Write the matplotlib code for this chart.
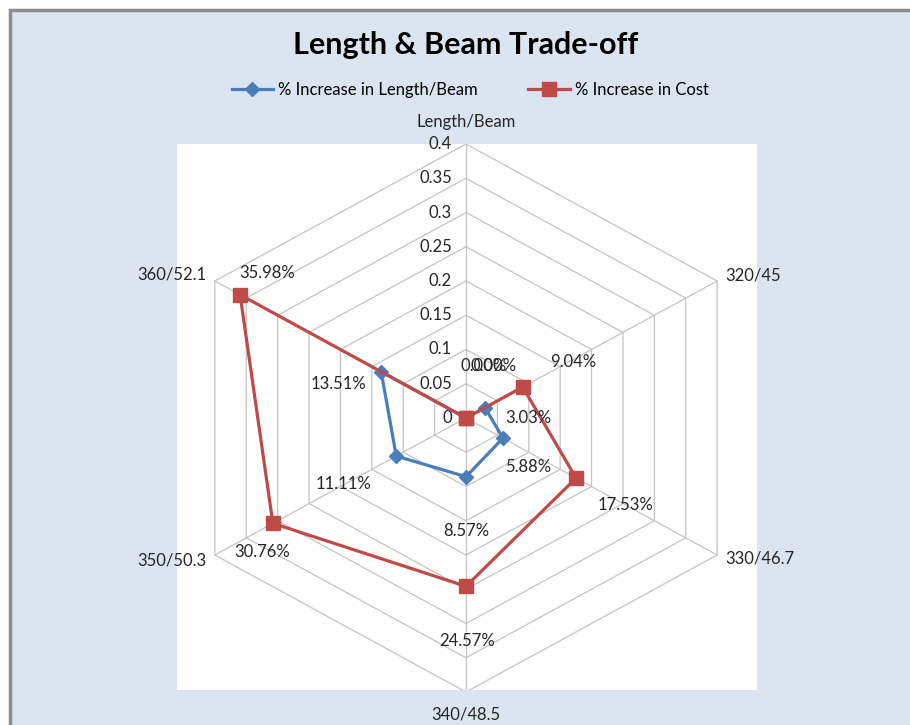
import matplotlib.pyplot as plt
from matplotlib.patches import Rectangle
import numpy as np

plt.rcParams['font.family'] = ['Lato', 'DejaVu Sans']

categories = ['Length/Beam', '320/45', '330/46.7', '340/48.5', '350/50.3', '360/52.1']
length_beam = [0.0, 0.0303, 0.0588, 0.0857, 0.1111, 0.1351]
cost = [0.0, 0.0904, 0.1753, 0.2457, 0.3076, 0.3598]
length_labels = ['0.00%', '3.03%', '5.88%', '8.57%', '11.11%', '13.51%']
cost_labels = ['0.00%', '9.04%', '17.53%', '24.57%', '30.76%', '35.98%']
rticks = [0, 0.05, 0.1, 0.15, 0.2, 0.25, 0.3, 0.35, 0.4]
rtick_labels = ['0', '0.05', '0.1', '0.15', '0.2', '0.25', '0.3', '0.35', '0.4']

blue = '#4a7ebb'
red = '#be4b48'
rmax = 0.4
fs = 12

# angles, clockwise from top
ang = np.deg2rad(90 - 60 * np.arange(len(categories)))
# the picture is a little wider than tall
sx, sy = 290 / 274, 1.0

def xy(r):
    r = np.asarray(r, dtype=float)
    return r * np.cos(ang) * sx, r * np.sin(ang) * sy

W, H = 910, 725
fig = plt.figure(figsize=(W / 100, H / 100), dpi=100)
fig.patch.set_facecolor('white')
fig.patches.append(Rectangle((10 / W, -0.05), 1, 1.05 - 10 / H, transform=fig.transFigure,
                             facecolor='#dbe5f1', edgecolor='#8c8c8c', lw=2.5, zorder=-10))

ax = fig.add_axes([177 / W, 35 / H, 580 / W, 546 / H])
ax.set_facecolor('white')
ax.set_xlim(-289 / 274 * rmax, 291 / 274 * rmax)
ax.set_ylim(-272 / 274 * rmax, rmax)
for s in ax.spines.values():
    s.set_visible(False)
ax.set_xticks([])
ax.set_yticks([])

# hexagon grid and spokes
for r in rticks[1:]:
    gx, gy = xy([r] * len(categories))
    ax.plot(np.append(gx, gx[0]), np.append(gy, gy[0]), color='#c4c4c4', lw=0.9, zorder=1)
vx, vy = xy([rmax] * len(categories))
for x, y in zip(vx, vy):
    ax.plot([0, x], [0, y], color='#c4c4c4', lw=0.9, zorder=1)

# radial tick labels
for r, lab in zip(rticks, rtick_labels):
    ax.annotate(lab, (0, r), xytext=(-14, 0), textcoords='offset pixels',
                ha='right', va='center', fontsize=fs, color='#262626')

# category labels
cat_off = [(0, 22, 'center'), (8, 5, 'left'), (8, -3, 'left'),
           (0, -23, 'center'), (-8, -5, 'right'), (-8, 6, 'right')]
for i, lab in enumerate(categories):
    dx, dy, ha = cat_off[i]
    ax.annotate(lab, (vx[i], vy[i]), xytext=(dx, dy), textcoords='offset pixels',
                ha=ha, va='center', fontsize=fs, color='#262626', annotation_clip=False)

bx, by = xy(length_beam)
cx, cy = xy(cost)
ax.plot(np.append(bx, bx[0]), np.append(by, by[0]), color=blue, lw=2.3,
        marker='D', ms=7.5, zorder=3, label='% Increase in Length/Beam')
ax.plot(np.append(cx, cx[0]), np.append(cy, cy[0]), color=red, lw=2.3,
        marker='s', ms=10, zorder=4, label='% Increase in Cost')

# the two 0.00% labels sit almost on top of each other, as in the original
blue_off = [(18, 52), (43, -10), (25, -29), (0, -54), (-53, -28), (-43, -12)]
red_off = [(28, 52), (50, 25), (49, -27), (1, -55), (-11, -29), (27, 22)]
for i in range(len(categories)):
    ax.annotate(length_labels[i], (bx[i], by[i]), xytext=blue_off[i], textcoords='offset pixels',
                ha='center', va='center', fontsize=fs, color='#262626', zorder=5)
    ax.annotate(cost_labels[i], (cx[i], cy[i]), xytext=red_off[i], textcoords='offset pixels',
                ha='center', va='center', fontsize=fs, color='#262626', zorder=5)

fig.text(466 / W, 1 - 45 / H, 'Length & Beam Trade-off', ha='center', va='center',
         fontsize=22, fontweight='bold', color='black')
fig.legend(loc='center', bbox_to_anchor=(470 / W, 1 - 90 / H), ncol=2, frameon=False,
           fontsize=fs, handlelength=2.5, columnspacing=3, handletextpad=0.3)

fig.savefig('out.png', dpi=100)
